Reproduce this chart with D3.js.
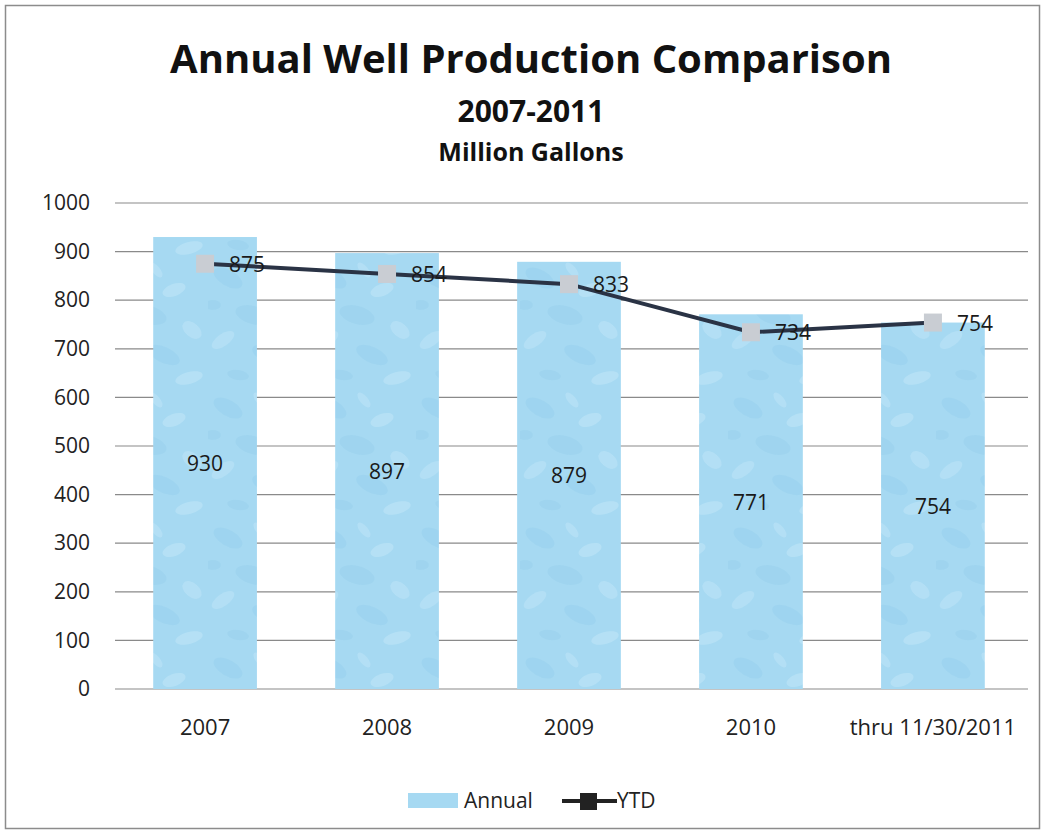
<!DOCTYPE html>
<html>
<head>
<meta charset="utf-8">
<script src="https://cdn.jsdelivr.net/npm/d3@7"></script>
<style>
  body { margin: 0; background: #fff; }
  svg text { font-family: "Open Sans", "Liberation Sans", sans-serif; }
</style>
</head>
<body>
<div id="chart"></div>
<script>
// data
const categories = ["2007", "2008", "2009", "2010", "thru 11/30/2011"];
const annual = [930, 897, 879, 771, 754];
const ytd = [875, 854, 833, 734, 754];
const yTicks = [0, 100, 200, 300, 400, 500, 600, 700, 800, 900, 1000];

const width = 1045, height = 839;
const plot = { left: 115, right: 1023, gridRight: 1028, top: 203, bottom: 689 };

const svg = d3.select("#chart").append("svg")
    .attr("width", width)
    .attr("height", height);

// outer frame
svg.append("rect")
    .attr("x", 5.5).attr("y", 5.5)
    .attr("width", 1034).attr("height", 823)
    .attr("fill", "#fff")
    .attr("stroke", "#8c8c8c")
    .attr("stroke-width", 1.5);

// mottled water texture for the bars
const defs = svg.append("defs");
const pat = defs.append("pattern")
    .attr("id", "drops")
    .attr("patternUnits", "userSpaceOnUse")
    .attr("width", 104).attr("height", 130);
pat.append("rect").attr("width", 104).attr("height", 130).attr("fill", "#a6d9f2");
// [cx, cy, rx, ry, rotation, colour, opacity]
const blobs = [
    [20, 18, 16, 8, 30, "#8fcbea", 0.35], [70, 30, 12, 6, -20, "#c4e8f8", 0.5],
    [45, 55, 18, 9, 15, "#8fcbea", 0.3], [88, 70, 11, 7, 40, "#c4e8f8", 0.45],
    [15, 80, 13, 6, -35, "#c4e8f8", 0.45], [60, 95, 17, 8, 25, "#8fcbea", 0.35],
    [30, 115, 11, 5, 10, "#8fcbea", 0.3], [85, 118, 14, 6, -15, "#c4e8f8", 0.5],
    [52, 10, 9, 4, 50, "#c4e8f8", 0.45], [5, 45, 8, 5, 0, "#8fcbea", 0.3]
];
blobs.forEach(b => {
    pat.append("ellipse")
        .attr("cx", b[0]).attr("cy", b[1]).attr("rx", b[2]).attr("ry", b[3])
        .attr("transform", `rotate(${b[4]},${b[0]},${b[1]})`)
        .attr("fill", b[5]).attr("opacity", b[6]);
});

// titles
svg.append("text")
    .attr("x", 531).attr("y", 73)
    .attr("text-anchor", "middle")
    .attr("font-size", "40px").attr("font-weight", "bold")
    .attr("fill", "#111")
    .text("Annual Well Production Comparison");
svg.append("text")
    .attr("x", 531).attr("y", 122)
    .attr("text-anchor", "middle")
    .attr("font-size", "30px").attr("font-weight", "bold")
    .attr("fill", "#111")
    .text("2007-2011");
svg.append("text")
    .attr("x", 531).attr("y", 161)
    .attr("text-anchor", "middle")
    .attr("font-size", "25px").attr("font-weight", "bold")
    .attr("fill", "#111")
    .text("Million Gallons");

// scales
const x = d3.scaleBand()
    .domain(categories)
    .range([plot.left, plot.right])
    .paddingInner(0.43)
    .paddingOuter(0.21);

const y = d3.scaleLinear()
    .domain([0, 1000])
    .range([plot.bottom, plot.top]);

// gridlines
svg.append("g")
    .selectAll("line")
    .data(yTicks)
    .join("line")
    .attr("x1", plot.left).attr("x2", plot.gridRight)
    .attr("y1", d => y(d)).attr("y2", d => y(d))
    .attr("stroke", "#8a8a8a")
    .attr("stroke-width", 1.2);

// y axis labels
const yAxis = d3.axisLeft(y).tickValues(yTicks).tickFormat(d3.format("d"))
    .tickSize(0).tickPadding(25);
svg.append("g")
    .attr("transform", `translate(${plot.left},0)`)
    .call(yAxis)
    .call(g => g.select(".domain").remove())
    .selectAll("text")
    .attr("font-family", "'Open Sans', sans-serif")
    .attr("font-size", "21px")
    .attr("fill", "#222");

// bars
svg.append("g")
    .selectAll("rect")
    .data(annual)
    .join("rect")
    .attr("x", (d, i) => x(categories[i]))
    .attr("y", d => y(d))
    .attr("width", x.bandwidth())
    .attr("height", d => y(0) - y(d))
    .attr("fill", "url(#drops)");

// bar labels (centred in bar)
svg.append("g")
    .selectAll("text")
    .data(annual)
    .join("text")
    .attr("x", (d, i) => x(categories[i]) + x.bandwidth() / 2)
    .attr("y", d => y(d / 2) + 8)
    .attr("text-anchor", "middle")
    .attr("font-size", "21px")
    .attr("fill", "#1a1a1a")
    .text(d => d);

// x axis labels
const xAxis = d3.axisBottom(x).tickSize(0).tickPadding(30);
svg.append("g")
    .attr("transform", `translate(0,${y(0)})`)
    .call(xAxis)
    .call(g => g.select(".domain").remove())
    .selectAll("text")
    .attr("font-family", "'Open Sans', sans-serif")
    .attr("font-size", "22px")
    .attr("fill", "#222");

// YTD line
const cx = (d, i) => x(categories[i]) + x.bandwidth() / 2;
const line = d3.line()
    .x(cx)
    .y(d => y(d));
svg.append("path")
    .datum(ytd)
    .attr("d", line)
    .attr("fill", "none")
    .attr("stroke", "#2a3345")
    .attr("stroke-width", 4);

svg.append("g")
    .selectAll("rect")
    .data(ytd)
    .join("rect")
    .attr("x", (d, i) => cx(d, i) - 9)
    .attr("y", d => y(d) - 9)
    .attr("width", 18).attr("height", 18)
    .attr("fill", "#c9cdd3");

svg.append("g")
    .selectAll("text")
    .data(ytd)
    .join("text")
    .attr("x", (d, i) => cx(d, i) + 24)
    .attr("y", d => y(d) + 8)
    .attr("font-size", "21px")
    .attr("fill", "#1a1a1a")
    .text(d => d);

// legend
const leg = svg.append("g").attr("transform", "translate(408,800)");
leg.append("rect")
    .attr("x", 0).attr("y", -7)
    .attr("width", 50).attr("height", 15)
    .attr("fill", "#a6d9f2");
leg.append("text")
    .attr("x", 56).attr("y", 8)
    .attr("font-size", "21px").attr("fill", "#222")
    .text("Annual");
leg.append("line")
    .attr("x1", 154).attr("x2", 209)
    .attr("y1", 1).attr("y2", 1)
    .attr("stroke", "#222").attr("stroke-width", 4);
leg.append("rect")
    .attr("x", 172).attr("y", -7)
    .attr("width", 17).attr("height", 17)
    .attr("fill", "#222");
leg.append("text")
    .attr("x", 209).attr("y", 8)
    .attr("font-size", "21px").attr("fill", "#222")
    .text("YTD");
</script>
</body>
</html>
